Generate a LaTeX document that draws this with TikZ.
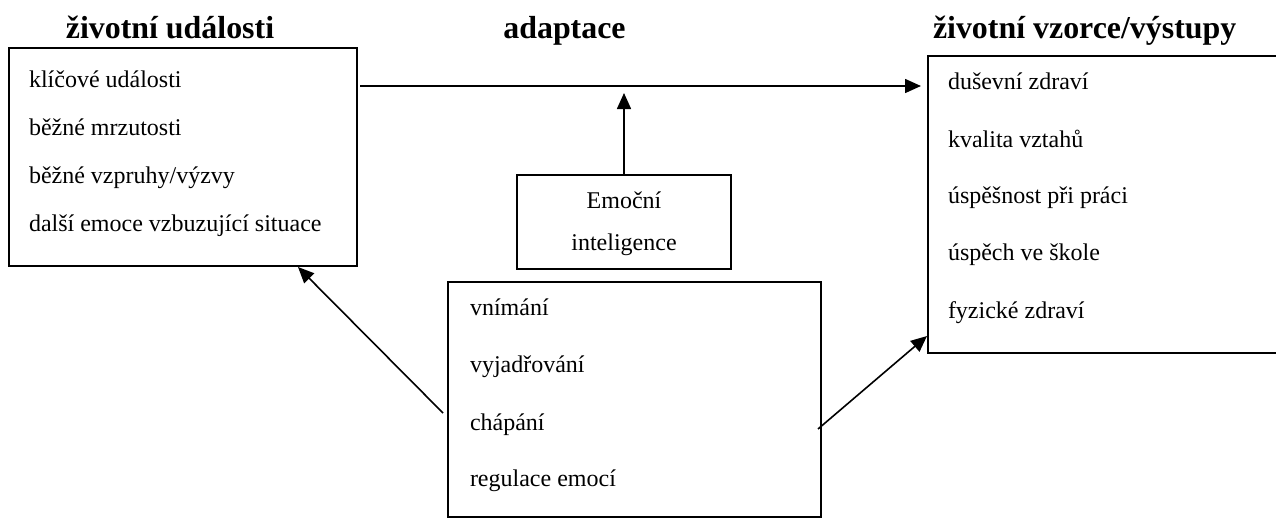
\documentclass[tikz,border=0pt]{standalone}
\usepackage{fontspec}
\setmainfont{Liberation Serif}
\usetikzlibrary{arrows.meta}

\begin{document}
\begin{tikzpicture}[x=0.5pt, y=-0.5pt, inner sep=0pt, outer sep=0pt,
  box/.style={draw=black, line width=1pt, anchor=north west},
  item/.style={anchor=base west, font=\fontsize{12}{14}\selectfont},
  title/.style={anchor=base, font=\fontsize{15.95}{19}\selectfont\bfseries},
  arrow/.style={draw=black, line width=0.8pt, -{Triangle[length=8pt,width=7pt]}}]
  \useasboundingbox (0,0) rectangle (1276,520);

  % titles
  \node[title] (tudalosti) at (170,38.5){životní události};
  \node[title] (tadaptace) at (564.5,38.5){adaptace};
  \node[title,anchor=base west] (tvystupy) at (933,38.5){životní vzorce/výstupy};

  % boxes
  \node[box,minimum width=174pt,minimum height=109pt] (udalosti) at (9,48){};
  \node[box,minimum width=181pt,minimum height=148.5pt] (vystupy) at (928,56){};
  \node[box,minimum width=107pt,minimum height=47pt] (emocni) at (517,175){};
  \node[box,minimum width=186.5pt,minimum height=117.5pt] (slozky) at (448,282){};

  % life events
  \node[item] (klicove) at (29,87){klíčové události};
  \node[item] (mrzutosti) at (29,135){běžné mrzutosti};
  \node[item] (vzpruhy) at (29,183){běžné vzpruhy/výzvy};
  \node[item] (dalsi) at (29,231){další emoce vzbuzující situace};

  % outcomes
  \node[item] (dusevni) at (948,89){duševní zdraví};
  \node[item] (kvalita) at (948,147){kvalita vztahů};
  \node[item] (prace) at (948,203){úspěšnost při práci};
  \node[item] (skola) at (948,260){úspěch ve škole};
  \node[item] (fyzicke) at (948,318){fyzické zdraví};

  % emotional intelligence
  \node[item,anchor=base] (emocni1) at (624,208){Emoční};
  \node[item,anchor=base] (emocni2) at (624,250){inteligence};

  % components
  \node[item] (vnimani) at (470,315){vnímání};
  \node[item] (vyjadrovani) at (470,372){vyjadřování};
  \node[item] (chapani) at (470,430){chápání};
  \node[item] (regulace) at (470,486){regulace emocí};

  % connectors
  \coordinate (adaptline) at ([shift={(1.5pt,-19pt)}]udalosti.north east);
  \draw[arrow] (adaptline) -- ([shift={(-3.5pt,-15pt)}]vystupy.north west);
  \draw[arrow] (emocni.north) -- ([yshift=-3.5pt]emocni.north |- adaptline);
  \draw[arrow] ([shift={(-2.5pt,-65.5pt)}]slozky.north west) -- ([shift={(144.5pt,-0.5pt)}]udalosti.south west);
  \draw[arrow] ([shift={(-1.5pt,-73.5pt)}]slozky.north east) -- ([shift={(-0.5pt,8.5pt)}]vystupy.south west);

\end{tikzpicture}
\end{document}
